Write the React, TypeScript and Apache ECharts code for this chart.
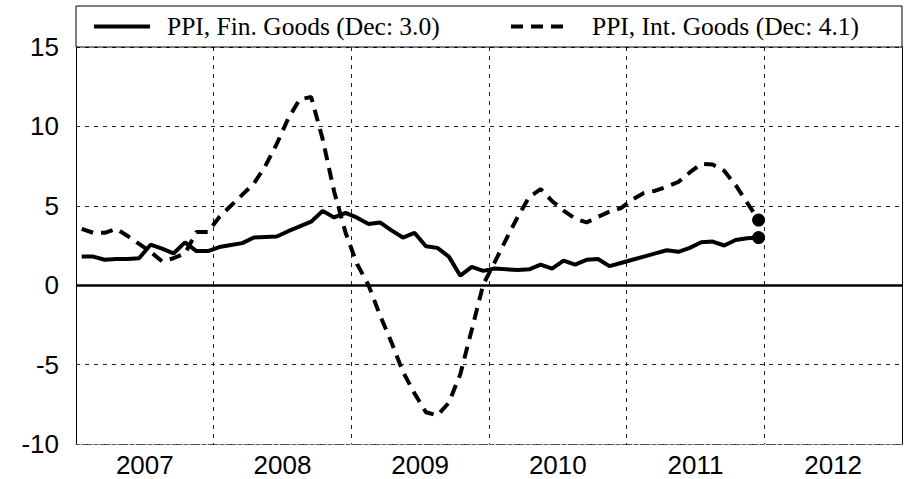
import React, { useEffect, useRef } from 'react';
import * as echarts from 'echarts';

const startYear = 2007;
const finGoods = [
  1.8, 1.8, 1.6, 1.65, 1.65, 1.7, 2.55, 2.3, 2.0, 2.7, 2.15, 2.15,
  2.4, 2.53, 2.65, 3.0, 3.04, 3.07, 3.4, 3.7, 4.0, 4.68, 4.27, 4.55,
  4.25, 3.85, 3.95, 3.45, 3.0, 3.3, 2.45, 2.35, 1.8, 0.6, 1.15, 0.9,
  1.05, 1.0, 0.95, 1.0, 1.3, 1.05, 1.55, 1.3, 1.6, 1.65, 1.2, 1.4,
  1.6, 1.8, 2.0, 2.2, 2.1, 2.35, 2.7, 2.75, 2.5, 2.85, 2.95, 3.0,
];
const intGoods = [
  3.55, 3.3, 3.3, 3.55, 3.1, 2.6, 2.1, 1.5, 1.7, 2.0, 3.35, 3.35,
  4.3, 5.0, 5.7, 6.4, 7.5, 8.9, 10.5, 11.7, 11.85, 9.2, 5.9, 3.3,
  1.33, 0.0, -1.9, -3.6, -5.45, -6.8, -8.0, -8.2, -7.4, -5.6, -2.8, 0.05,
  1.45, 2.9, 4.3, 5.55, 6.05, 5.3, 4.7, 4.2, 3.95, 4.3, 4.63, 4.85,
  5.4, 5.8, 5.95, 6.2, 6.5, 7.1, 7.65, 7.6, 7.2, 6.3, 5.2, 4.1,
];
const yearLabels = ['2007', '2008', '2009', '2010', '2011', '2012'];
const yTicks = [-10, -5, 0, 5, 10, 15];
const legendNames = ['PPI, Fin. Goods (Dec: 3.0)', 'PPI, Int. Goods (Dec: 4.1)'];

const toPoints = (vals: number[]) => vals.map((v, i) => [startYear + (i + 0.5) / 12, v]);

export default function App() {
  const ref = useRef<HTMLDivElement>(null);
  useEffect(() => {
    document.body.style.margin = '0';
    if (!ref.current) return;
    const chart = echarts.init(ref.current, null, { renderer: 'svg' });
    const fin = toPoints(finGoods);
    const int = toPoints(intGoods);
    const labelValues = yearLabels.map((y) => Number(y) + 0.5);
    const gridLine = { show: true, lineStyle: { color: '#222', width: 1, type: [4, 5] as any } };
    const legendFont = '25.5px "Liberation Serif", "Times New Roman", serif';
    const option: any = {
      animation: false,
      backgroundColor: '#fff',
      grid: { left: 76, right: 2, top: 47, bottom: 35, show: false },
      xAxis: {
        type: 'value',
        min: 2007,
        max: 2013,
        interval: 1,
        axisLine: { show: true, onZero: false, lineStyle: { color: '#555', width: 1, type: [4, 2] } },
        axisTick: { show: false },
        axisLabel: {
          show: true,
          customValues: labelValues,
          formatter: (v: number) => String(Math.floor(v)),
          fontFamily: '"Liberation Sans", Arial, sans-serif',
          fontSize: 26,
          color: '#000',
          margin: 8,
        },
        splitLine: gridLine,
      },
      yAxis: [
        {
          type: 'value',
          min: yTicks[0],
          max: yTicks[yTicks.length - 1],
          interval: 5,
          axisLine: { show: true, lineStyle: { color: '#000', width: 1 } },
          axisTick: { show: false },
          axisLabel: {
            fontFamily: '"Liberation Sans", Arial, sans-serif',
            fontSize: 26,
            color: '#000',
            margin: 17,
          },
          splitLine: gridLine,
        },
        {
          type: 'value',
          position: 'right',
          min: yTicks[0],
          max: yTicks[yTicks.length - 1],
          interval: 5,
          axisLine: { show: true, lineStyle: { color: '#000', width: 1 } },
          axisTick: { show: false },
          axisLabel: { show: false },
          splitLine: { show: false },
        },
      ],
      series: [
        {
          name: legendNames[1],
          type: 'line',
          data: int,
          symbol: 'none',
          lineStyle: { color: '#000', width: 4, type: [12, 8] },
          z: 3,
        },
        {
          name: legendNames[0],
          type: 'line',
          data: fin,
          symbol: 'none',
          lineStyle: { color: '#000', width: 4 },
          z: 4,
          markLine: {
            silent: true,
            symbol: 'none',
            label: { show: false },
            lineStyle: { color: '#000', width: 2.5, type: 'solid' },
            data: [{ yAxis: 0 }],
          },
        },
        {
          type: 'scatter',
          data: [fin[fin.length - 1], int[int.length - 1]],
          symbol: 'circle',
          symbolSize: 13,
          itemStyle: { color: '#000', opacity: 1 },
          z: 5,
        },
      ],
      graphic: [
        {
          type: 'rect',
          shape: { x: 76, y: 6, width: 826, height: 41 },
          style: { fill: '#fff', stroke: '#000', lineWidth: 1 },
          z: 10,
        },
        {
          type: 'line',
          shape: { x1: 94, y1: 26.5, x2: 150, y2: 26.5 },
          style: { stroke: '#000', lineWidth: 4 },
          z: 11,
        },
        {
          type: 'text',
          x: 167,
          y: 26.5,
          style: { text: legendNames[0], font: legendFont, fill: '#000', verticalAlign: 'middle', align: 'left' },
          z: 11,
        },
        {
          type: 'line',
          shape: { x1: 511, y1: 26.5, x2: 563, y2: 26.5 },
          style: { stroke: '#000', lineWidth: 4, lineDash: [12, 8] },
          z: 11,
        },
        {
          type: 'text',
          x: 592,
          y: 26.5,
          style: { text: legendNames[1], font: legendFont, fill: '#000', verticalAlign: 'middle', align: 'left' },
          z: 11,
        },
      ],
    };
    chart.setOption(option);
    return () => chart.dispose();
  }, []);
  return <div ref={ref} style={{ width: 904, height: 479 }} />;
}
